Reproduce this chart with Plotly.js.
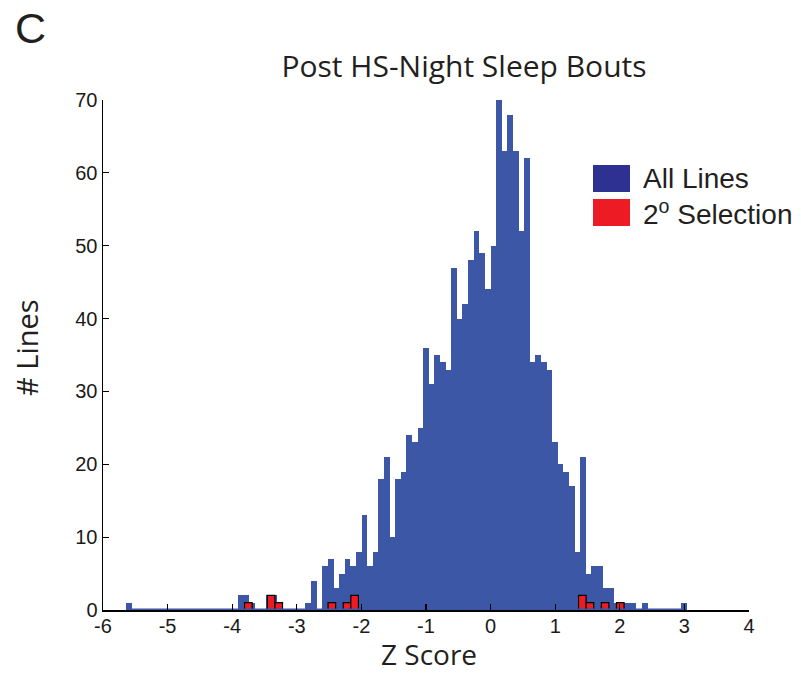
<!DOCTYPE html>
<html>
<head>
<meta charset="utf-8">
<script src="https://cdn.plot.ly/plotly-3.0.1.min.js"></script>
<style>
  html, body { margin: 0; padding: 0; background: #ffffff; }
  #chart { width: 801px; height: 674px; }
</style>
</head>
<body>
<div id="chart"></div>
<script>
// ---- Data ----
// All Lines: 100 histogram bins of Z score
const allBinFirstCenter = -5.60;
const allBinWidth = 0.0868;
const allLinesCounts = [
  1, 0, 0, 0, 0, 0, 0, 0, 0, 0,
  0, 0, 0, 0, 0, 0, 0, 0, 0, 0,
  2, 2, 1, 0, 0, 2, 2, 0, 0, 0,
  0, 0, 1, 4, 0, 6, 7, 3, 5, 7,
  6, 8, 13, 6, 8, 18, 21, 10, 18, 19,
  24, 23, 25, 36, 31, 35, 34, 33, 47, 40,
  42, 48, 52, 49, 44, 50, 70, 63, 68, 63,
  52, 62, 34, 35, 34, 33, 23, 20, 19, 17,
  8, 21, 5, 6, 6, 3, 3, 1, 1, 1,
  1, 0, 1, 0, 0, 0, 0, 0, 0, 1
];
// 2° Selection: 50 histogram bins of Z score
const selBinFirstCenter = -3.75;
const selBinWidth = 0.1175;
const selectionCounts = [
  1, 0, 0, 2, 1, 0, 0, 0, 0, 0,
  0, 1, 0, 1, 2, 0, 0, 0, 0, 0,
  0, 0, 0, 0, 0, 0, 0, 0, 0, 0,
  0, 0, 0, 0, 0, 0, 0, 0, 0, 0,
  0, 0, 0, 0, 2, 1, 0, 1, 0, 1
];
const xTickVals = [-6, -5, -4, -3, -2, -1, 0, 1, 2, 3, 4];
const xTickText = ["-6", "-5", "-4", "-3", "-2", "-1", "0", "1", "2", "3", "4"];
const yTickVals = [0, 10, 20, 30, 40, 50, 60, 70];
const seriesNames = ["All Lines", "2<sup>o</sup> Selection"];

// ---- Build traces ----
function binCenters(first, width, counts) {
  return counts.map((_, i) => first + i * width);
}
const allX = binCenters(allBinFirstCenter, allBinWidth, allLinesCounts);
const selXAll = binCenters(selBinFirstCenter, selBinWidth, selectionCounts);
const selX = [], selY = [];
selectionCounts.forEach((c, i) => { if (c > 0) { selX.push(selXAll[i]); selY.push(c); } });

const barBlue = '#3b57a5';
const legendBlue = '#2e3192';
const red = '#ed1c24';

const baseline = {
  type: 'scatter', mode: 'lines',
  x: [allX[0] - allBinWidth / 2, allX[allX.length - 1] + allBinWidth / 2],
  y: [0, 0],
  line: { color: barBlue, width: 3 },
  hoverinfo: 'skip', showlegend: false
};
const allTrace = {
  type: 'bar', name: seriesNames[0],
  x: allX, y: allLinesCounts, width: allBinWidth,
  marker: { color: barBlue, line: { width: 0 } },
  showlegend: false
};
const selTrace = {
  type: 'bar', name: seriesNames[1],
  x: selX, y: selY, width: selBinWidth,
  marker: { color: red, line: { color: '#000000', width: 1.2 } },
  showlegend: false
};

// ---- Layout helpers (pixel -> paper) ----
const L = 103, R = 52, T = 100, B = 64, W = 801, H = 674;
const pw = W - L - R, ph = H - T - B;
const px = v => (v - L) / pw;
const py = v => (H - B - v) / ph;

const axisFont = { family: 'Liberation Sans, Arial, sans-serif', size: 20, color: '#1a1a1a' };
const titleFamily = 'Open Sans, Noto Sans, sans-serif';

const layout = {
  width: W, height: H,
  margin: { l: L, r: R, t: T, b: B, pad: 0 },
  paper_bgcolor: '#ffffff', plot_bgcolor: '#ffffff',
  barmode: 'overlay', bargap: 0,
  showlegend: false,
  title: {
    text: 'Post HS-Night Sleep Bouts',
    font: { family: titleFamily, size: 30, color: '#231f20' },
    xref: 'container', yref: 'container',
    x: 464 / W, y: 1 - 66 / H, xanchor: 'center', yanchor: 'middle'
  },
  xaxis: {
    range: [-6, 4], tickvals: xTickVals, ticktext: xTickText,
    showline: true, linecolor: '#000000', linewidth: 1.5,
    ticks: 'inside', ticklen: 6, tickwidth: 1.2, tickcolor: '#000000',
    ticklabelstandoff: -3,
    showgrid: false, zeroline: false, tickfont: axisFont,
    fixedrange: true
  },
  yaxis: {
    range: [0, 70], tickvals: yTickVals,
    showline: true, linecolor: '#000000', linewidth: 1.5,
    ticks: 'inside', ticklen: 6, tickwidth: 1.2, tickcolor: '#000000',
    showgrid: false, zeroline: false, tickfont: axisFont,
    fixedrange: true
  },
  shapes: [
    { type: 'rect', xref: 'paper', yref: 'paper', x0: px(593), x1: px(630), y0: py(192), y1: py(165),
      fillcolor: legendBlue, line: { width: 0 } },
    { type: 'rect', xref: 'paper', yref: 'paper', x0: px(593), x1: px(630), y0: py(226), y1: py(199),
      fillcolor: red, line: { width: 0 } }
  ],
  annotations: [
    { text: 'C', xref: 'paper', yref: 'paper', x: px(30), y: py(28), xanchor: 'center', yanchor: 'middle',
      showarrow: false, font: { family: 'Liberation Sans, Arial, sans-serif', size: 43, color: '#231f20' } },
    { text: 'Z Score', xref: 'paper', yref: 'paper', x: px(429), y: py(654), xanchor: 'center', yanchor: 'middle',
      showarrow: false, font: { family: titleFamily, size: 28, color: '#231f20' } },
    { text: '# Lines', xref: 'paper', yref: 'paper', x: px(26), y: py(348), xanchor: 'center', yanchor: 'middle',
      textangle: -90, showarrow: false, font: { family: titleFamily, size: 29, color: '#231f20' } },
    { text: seriesNames.join('<br>'), xref: 'paper', yref: 'paper', x: px(641), y: py(196), xanchor: 'left', yanchor: 'middle',
      align: 'left', showarrow: false, font: { family: 'Liberation Sans, Arial, sans-serif', size: 28, color: '#231f20' } }
  ]
};

Plotly.newPlot('chart', [baseline, allTrace, selTrace], layout, { displayModeBar: false, staticPlot: true });
</script>
</body>
</html>
